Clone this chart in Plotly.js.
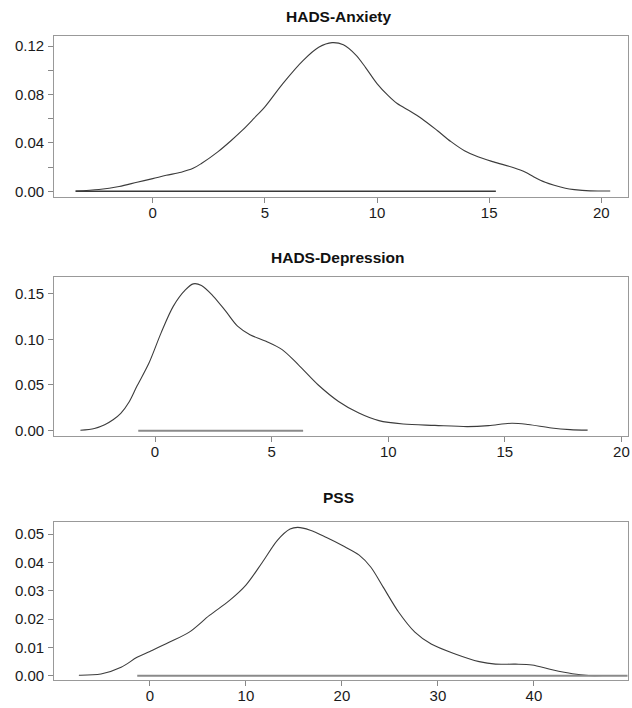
<!DOCTYPE html>
<html>
<head>
<meta charset="utf-8">
<script src="https://cdn.plot.ly/plotly-3.0.1.min.js"></script>
<style>html,body{margin:0;padding:0;background:#fff;}#chart{width:632px;height:708px;}</style>
</head>
<body>
<div id="chart"></div>
<script>
// ---- Data ----
const panelTitles = ["HADS-Anxiety", "HADS-Depression", "PSS"];

// HADS-Anxiety density
const anxX = [-3.44, -2.4, -1.5, -0.7, 0, 0.6, 1.27, 1.8, 2.17, 2.9, 3.5, 4.0, 4.5, 5.0, 5.8, 6.7, 7.4, 8.0, 8.5, 9.06, 9.5, 10.0, 10.5, 10.9, 11.5, 12.0, 12.7, 13.3, 13.9, 14.5, 15.2, 16.1, 16.6, 17.0, 17.5, 17.9, 18.4, 18.8, 19.5, 20.4];
const anxY = [0.0002, 0.0015, 0.004, 0.0075, 0.0105, 0.0132, 0.0158, 0.019, 0.023, 0.0326, 0.042, 0.0505, 0.060, 0.0698, 0.089, 0.108, 0.119, 0.1228, 0.121, 0.1125, 0.102, 0.089, 0.079, 0.0725, 0.066, 0.060, 0.050, 0.041, 0.0335, 0.0285, 0.0243, 0.0195, 0.016, 0.0119, 0.0075, 0.005, 0.0025, 0.0014, 0.0004, 0.0003];
const anxRange = [-3.44, 15.3];

// HADS-Depression density
const depX = [-3.2, -2.6, -2.16, -1.8, -1.47, -1.1, -0.78, -0.26, 0.26, 0.78, 1.3, 1.64, 1.99, 2.5, 3.03, 3.55, 4.07, 4.76, 5.45, 6.14, 7.0, 7.87, 8.74, 9.6, 10.64, 12.0, 13.4, 14.3, 15.3, 16.0, 17.0, 17.8, 18.55];
const depY = [0.0005, 0.0025, 0.0066, 0.012, 0.019, 0.032, 0.0485, 0.074, 0.107, 0.136, 0.154, 0.1606, 0.1588, 0.147, 0.1307, 0.114, 0.105, 0.0978, 0.0887, 0.0723, 0.050, 0.032, 0.0193, 0.011, 0.0073, 0.0058, 0.0045, 0.0055, 0.0082, 0.0068, 0.003, 0.0012, 0.0006];
const depRange = [-0.72, 6.35];

// PSS density
const pssX = [-7.4, -5.1, -3.0, -1.34, 0, 2.0, 4.1, 6.2, 8.3, 10.0, 11.7, 13.3, 14.6, 15.4, 16.7, 18.4, 20.1, 21.8, 23.0, 24.3, 25.9, 27.6, 29.3, 31.8, 34.3, 36.0, 38.1, 39.8, 41.9, 44.0, 45.7, 47.2];
const pssY = [0.0002, 0.0006, 0.003, 0.0065, 0.0086, 0.0118, 0.0154, 0.0213, 0.0266, 0.032, 0.040, 0.0479, 0.0518, 0.0524, 0.0514, 0.0488, 0.0459, 0.0426, 0.0384, 0.0313, 0.0225, 0.0154, 0.0112, 0.0077, 0.005, 0.0041, 0.0041, 0.0038, 0.0021, 0.0007, 0.0001, 0.0001];
const pssRange = [-1.32, 50];

// tick labels
const anxYTicks = [0, 0.02, 0.04, 0.06, 0.08, 0.10, 0.12];
const anxYLabels = ["0.00", "", "0.04", "", "0.08", "", "0.12"];
const depYTicks = [0, 0.05, 0.10, 0.15];
const depYLabels = ["0.00", "0.05", "0.10", "0.15"];
const pssYTicks = [0, 0.01, 0.02, 0.03, 0.04, 0.05];
const pssYLabels = ["0.00", "0.01", "0.02", "0.03", "0.04", "0.05"];
const anxXTicks = [0, 5, 10, 15, 20];
const depXTicks = [0, 5, 10, 15, 20];
const pssXTicks = [0, 10, 20, 30, 40];

// ---- Build plot ----
const W = 632, H = 708;
const xDom = [54.3 / W, 627.5 / W];
function yDom(top, bottom) { return [1 - bottom / H, 1 - top / H]; }

const curveLine = {color: "#3c3c3c", width: 1.1, shape: "spline", smoothing: 0.9};

const traces = [
  {x: anxX, y: anxY, xaxis: "x", yaxis: "y", mode: "lines", line: curveLine, hoverinfo: "skip"},
  {x: anxRange, y: [0, 0], xaxis: "x", yaxis: "y", mode: "lines", line: {color: "#3a3a3a", width: 1.4}, hoverinfo: "skip"},
  {x: depX, y: depY, xaxis: "x2", yaxis: "y2", mode: "lines", line: curveLine, hoverinfo: "skip"},
  {x: depRange, y: [0, 0], xaxis: "x2", yaxis: "y2", mode: "lines", line: {color: "#8a8a8a", width: 2}, hoverinfo: "skip"},
  {x: pssX, y: pssY, xaxis: "x3", yaxis: "y3", mode: "lines", line: curveLine, hoverinfo: "skip"},
  {x: pssRange, y: [0, 0], xaxis: "x3", yaxis: "y3", mode: "lines", line: {color: "#8a8a8a", width: 2}, hoverinfo: "skip"}
];

const tickFont = {family: "Liberation Sans, Arial, sans-serif", size: 15, color: "#1a1a1a"};
function xAxis(range, ticks, anchor) {
  return {domain: xDom, range: range, anchor: anchor, tickmode: "array", tickvals: ticks,
    ticktext: ticks.map(String), ticks: "outside", ticklen: 5, tickcolor: "#888", tickwidth: 1,
    showline: true, mirror: true, linecolor: "#999", linewidth: 1.2, showgrid: false, zeroline: false,
    tickfont: tickFont, ticklabelstandoff: -3, fixedrange: true};
}
function yAxis(range, dom, ticks, labels, anchor) {
  return {domain: dom, range: range, anchor: anchor, tickmode: "array", tickvals: ticks, ticktext: labels,
    ticks: "outside", ticklen: 5, tickcolor: "#888", tickwidth: 1,
    showline: true, mirror: true, linecolor: "#999", linewidth: 1.2, showgrid: false, zeroline: false,
    tickfont: tickFont, ticklabelstandoff: 1, fixedrange: true};
}

const titleFont = {family: "Liberation Sans, Arial, sans-serif", size: 15.5, color: "#111"};
function titleAnn(text, yPix) {
  return {text: "<b>" + text + "</b>", xref: "paper", yref: "paper", x: 338 / W, y: 1 - yPix / H,
    xanchor: "center", yanchor: "middle", showarrow: false, font: titleFont};
}

const layout = {
  width: W, height: H, margin: {l: 0, r: 0, t: 0, b: 0},
  paper_bgcolor: "#fff", plot_bgcolor: "#fff", showlegend: false,
  xaxis: xAxis([-4.39, 21.17], anxXTicks, "y"),
  yaxis: yAxis([-0.0047, 0.1283], yDom(36, 197), anxYTicks, anxYLabels, "x"),
  xaxis2: xAxis([-4.32, 20.26], depXTicks, "y2"),
  yaxis2: yAxis([-0.0058, 0.1681], yDom(277, 436), depYTicks, depYLabels, "x2"),
  xaxis3: xAxis([-9.96, 49.75], pssXTicks, "y3"),
  yaxis3: yAxis([-0.0015, 0.0543], yDom(522, 680), pssYTicks, pssYLabels, "x3"),
  annotations: [titleAnn(panelTitles[0], 16), titleAnn(panelTitles[1], 258), titleAnn(panelTitles[2], 497)]
};

Plotly.newPlot("chart", traces, layout, {displayModeBar: false, staticPlot: true});
</script>
</body>
</html>
